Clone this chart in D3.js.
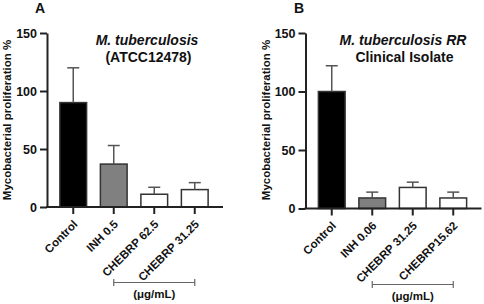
<!DOCTYPE html>
<html>
<head>
<meta charset="utf-8">
<script src="https://cdn.jsdelivr.net/npm/d3@7"></script>
<style>
  body { margin: 0; background: #fff; }
  svg text { font-family: "Liberation Sans", Arial, sans-serif; font-weight: bold; fill: #111; }
</style>
</head>
<body>
<div id="chart"></div>
<script>
"use strict";

// panel A: M. tuberculosis ATCC12478
var catsA = ["Control", "INH 0.5", "CHEBRP 62.5", "CHEBRP 31.25"];
var meanA = [90, 37, 11, 15];
var errA = [120, 53, 17, 21];
var fillA = ["#000000", "#808080", "#ffffff", "#ffffff"];

// panel B: M. tuberculosis RR clinical isolate
var catsB = ["Control", "INH 0.06", "CHEBRP 31.25", "CHEBRP15.62"];
var meanB = [100, 9, 18, 9];
var errB = [122, 14, 22.5, 14];
var fillB = ["#000000", "#808080", "#ffffff", "#ffffff"];

var yTicks = [0, 50, 100, 150];
var yTitle = "Mycobacterial proliferation %";
var unitLabel = "(\u03bcg/mL)";

var svg = d3.select("#chart").append("svg")
	.attr("width", 484)
	.attr("height", 304);

function drawPanel(opt) {
	var g = svg.append("g");

	var scaleY = d3.scaleLinear()
		.domain([0, 150])
		.range([opt.yBottom, 33]);

	var scaleX = d3.scaleBand()
		.domain(opt.cats)
		.range([opt.axisX + 6, opt.axisX + 168])
		.paddingInner(0.34)
		.paddingOuter(0.17);

	var mid = function(d) {
		return scaleX(d) + scaleX.bandwidth() / 2;
	};

	// bars
	g.selectAll(".bar")
		.data(opt.cats)
		.enter().append("rect")
		.attr("class", "bar")
		.attr("x", function(d) { return scaleX(d); })
		.attr("width", scaleX.bandwidth())
		.attr("y", function(d, i) { return scaleY(opt.mean[i]); })
		.attr("height", function(d, i) { return scaleY(0) - scaleY(opt.mean[i]); })
		.attr("fill", function(d, i) { return opt.fill[i]; })
		.attr("stroke", "#333")
		.attr("stroke-width", 1.5);

	// upper error bars
	var eb = g.selectAll(".err")
		.data(opt.cats)
		.enter().append("g")
		.attr("class", "err")
		.attr("stroke", "#555")
		.attr("stroke-width", 1.5);
	eb.append("line")
		.attr("x1", mid)
		.attr("x2", mid)
		.attr("y1", function(d, i) { return scaleY(opt.mean[i]); })
		.attr("y2", function(d, i) { return scaleY(opt.err[i]); });
	eb.append("line")
		.attr("x1", function(d) { return mid(d) - 6; })
		.attr("x2", function(d) { return mid(d) + 6; })
		.attr("y1", function(d, i) { return scaleY(opt.err[i]); })
		.attr("y2", function(d, i) { return scaleY(opt.err[i]); });

	// y axis
	var yAxis = g.append("g")
		.attr("transform", "translate(" + opt.axisX + ",0)")
		.call(d3.axisLeft(scaleY)
			.tickValues(yTicks)
			.tickSizeInner(7)
			.tickSizeOuter(0)
			.tickPadding(3));
	yAxis.select(".domain").attr("stroke", "#222").attr("stroke-width", 2);
	yAxis.selectAll(".tick line").attr("stroke", "#222").attr("stroke-width", 2);
	yAxis.selectAll(".tick text")
		.attr("font-size", "12.5px")
		.attr("fill", "#111");

	// x axis
	var xAxis = g.append("g")
		.attr("transform", "translate(0," + scaleY(0) + ")")
		.call(d3.axisBottom(scaleX)
			.tickSizeInner(7)
			.tickSizeOuter(0)
			.tickPadding(2));
	xAxis.select(".domain").remove();
	xAxis.append("line")
		.attr("x1", opt.axisX - 1)
		.attr("x2", opt.axisX + 176)
		.attr("stroke", "#222")
		.attr("stroke-width", 2);
	xAxis.selectAll(".tick line").attr("stroke", "#222").attr("stroke-width", 2);
	xAxis.selectAll(".tick text")
		.attr("font-size", "11.5px")
		.attr("fill", "#111")
		.attr("text-anchor", "end")
		.attr("dy", "0")
		.attr("y", 0)
		.attr("transform", "translate(5,18) rotate(-45)");

	// y title
	g.append("text")
		.attr("transform", "translate(" + (opt.axisX - 36) + "," + 120 + ") rotate(-90)")
		.attr("text-anchor", "middle")
		.attr("font-size", "11.5px")
		.text(yTitle);

	// panel letter
	g.append("text")
		.attr("x", opt.letterX)
		.attr("y", 13)
		.attr("text-anchor", "middle")
		.attr("font-size", "14px")
		.text(opt.letter);

	// title
	g.append("text")
		.attr("x", opt.titleX)
		.attr("y", 45)
		.attr("text-anchor", "middle")
		.attr("font-size", "14px")
		.attr("font-style", "italic")
		.text(opt.title1);
	g.append("text")
		.attr("x", opt.titleX + 1.5)
		.attr("y", 62)
		.attr("text-anchor", "middle")
		.attr("font-size", "14px")
		.text(opt.title2);

	// concentration bracket
	var c1 = mid(opt.cats[1]);
	var c2 = mid(opt.cats[3]);
	var by = opt.bracketY;
	var br = g.append("g").attr("stroke", "#666").attr("stroke-width", 1.2);
	br.append("line").attr("x1", c1).attr("x2", c2).attr("y1", by).attr("y2", by);
	br.append("line").attr("x1", c1).attr("x2", c1).attr("y1", by - 3.5).attr("y2", by + 3.5);
	br.append("line").attr("x1", c2).attr("x2", c2).attr("y1", by - 3.5).attr("y2", by + 3.5);
	g.append("text")
		.attr("x", (c1 + c2) / 2)
		.attr("y", by + 15)
		.attr("text-anchor", "middle")
		.attr("font-size", "11.5px")
		.text(unitLabel);
}

drawPanel({
	axisX: 47, yBottom: 207,
	cats: catsA, mean: meanA, err: errA, fill: fillA,
	letter: "A", letterX: 40,
	title1: "M. tuberculosis", title2: "(ATCC12478)", titleX: 147,
	bracketY: 282.5
});

drawPanel({
	axisX: 305.5, yBottom: 208.5,
	cats: catsB, mean: meanB, err: errB, fill: fillB,
	letter: "B", letterX: 299,
	title1: "M. tuberculosis RR", title2: "Clinical Isolate", titleX: 403,
	bracketY: 284.5
});
</script>
</body>
</html>
